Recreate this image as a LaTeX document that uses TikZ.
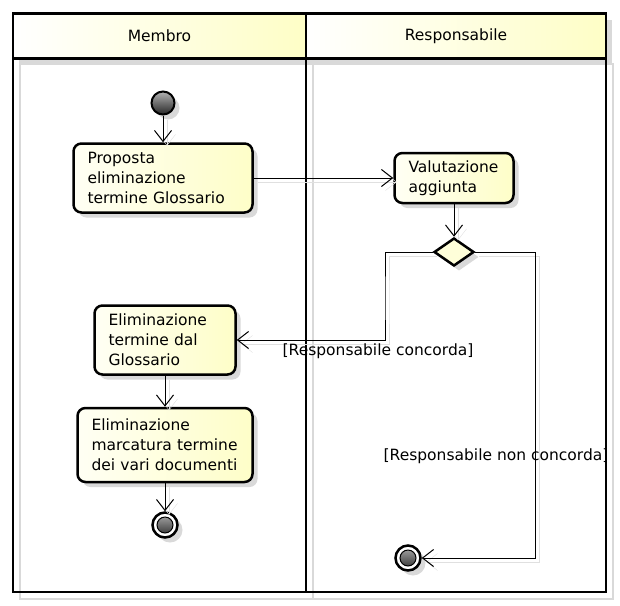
\documentclass[tikz,border=0pt]{standalone}
\usepackage{fontspec}
\setmainfont{DejaVu Sans}
\usetikzlibrary{arrows.meta,shapes.geometric,shadows}
\definecolor{laneyellow}{HTML}{FEFEC6}
\definecolor{actlight}{HTML}{FFFFF4}
\definecolor{actyellow}{HTML}{FEFEC8}
\tikzset{
	umlshadow/.style={drop shadow={shadow xshift=5pt, shadow yshift=-5pt, fill=black!15, opacity=1}},
	lanehead/.style={draw, line width=2.5pt, left color=white, right color=laneyellow,
		drop shadow={shadow xshift=6pt, shadow yshift=-6pt, fill=black!15, opacity=1},
		minimum height=45pt, inner sep=0pt, font=\fontsize{15.5}{18}\selectfont},
	lanebody/.style={draw, line width=2.5pt},
	laneshade/.style={draw=black!15, line width=2.5pt},
	action/.style={draw, line width=2.5pt, rounded corners=8pt, left color=actlight, right color=actyellow,
		umlshadow, align=left, inner xsep=14pt, inner ysep=4pt, font=\fontsize{15.5}{20}\selectfont},
	initnode/.style={circle, draw, line width=2pt, minimum size=23pt, inner sep=0pt,
		top color=black!30, bottom color=black!85, umlshadow},
	finalnode/.style={circle, draw, line width=2.5pt, minimum size=25pt, inner sep=0pt, fill=white, umlshadow,
		path picture={\draw[line width=1pt, top color=black!30, bottom color=black!85] (path picture bounding box.center) circle (8pt);}},
	decision/.style={diamond, draw, line width=2.5pt, fill=actyellow!70, aspect=1.43,
		minimum width=40pt, minimum height=28pt, inner sep=0pt, umlshadow},
	flow/.style={line width=1pt, -{Straight Barb[length=11pt, width=17pt]},
		preaction={draw=black!12, transform canvas={shift={(4pt,-4pt)}}}},
	guard/.style={inner sep=0pt, font=\fontsize{15.5}{18}\selectfont}
}
\begin{document}
\begin{tikzpicture}[x=1pt, y=-1pt]
	\useasboundingbox (0,0) rectangle (620,605);
	
	\node[lanehead, minimum width=293pt] (memHead) at (159.5,36) {Membro};
	\node[lanehead, minimum width=300pt] (resHead) at (456,36) {Responsabile};
	\draw[laneshade] (20,64) rectangle (313,599);
	\draw[laneshade] (313,64) rectangle (613,599);
	\draw[lanebody] (13,58) rectangle (306,592);
	\draw[lanebody] (306,58) rectangle (606,592);
	
	\node[initnode] (start) at (163,103) {};
	\node[action, text width=151pt, minimum height=69pt] (propose) at (163,178) {Proposta\\eliminazione\\termine Glossario};
	\node[action, text width=91pt, minimum height=50pt] (valuta) at (454,178) {Valutazione\\aggiunta};
	\node[decision] (choice) at (454,252) {};
	\node[action, text width=113pt, minimum height=69pt] (elim) at (165,340) {Eliminazione\\termine dal\\Glossario};
	\node[action, text width=147pt, minimum height=74pt] (marca) at (165,445) {Eliminazione\\marcatura termine\\dei vari documenti};
	\node[finalnode] (endL) at (165,525) {};
	\node[finalnode] (endR) at (408,558) {};
	\coordinate (kneeL) at (385,300);
	\coordinate (kneeR) at (535,400);
	
	\draw[flow] (start) -- (propose);
	\draw[flow] (propose) -- (valuta);
	\draw[flow] (valuta) -- (choice);
	\draw[flow] (choice.west) -| (kneeL) |- (elim.east);
	\draw[flow] (choice.east) -| (kneeR) |- (endR);
	\draw[flow] (elim) -- (marca);
	\draw[flow] (marca) -- (endL);
	
	\node[guard] (yesLbl) at (378,351) {[Responsabile concorda]};
	\node[guard] (noLbl) at (496,456) {[Responsabile non concorda]};
\end{tikzpicture}
\end{document}
